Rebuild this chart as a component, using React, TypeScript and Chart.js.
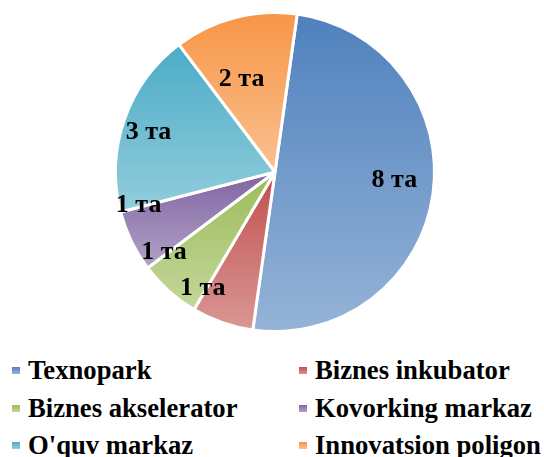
import React, { useEffect, useRef } from "react";
import { Chart, registerables } from "chart.js";

Chart.register(...registerables);

const categories = [
  "Texnopark",
  "Biznes inkubator",
  "Biznes akselerator",
  "Kovorking markaz",
  "O'quv markaz",
  "Innovatsion poligon",
];
const values = [8, 1, 1, 1, 3, 2];
const valueSuffix = " та";

const colorTop = ["#4F81BD", "#C0504D", "#9BBB59", "#8064A2", "#4BACC6", "#F79646"];
const colorBottom = ["#95B3D7", "#D99795", "#C4D79B", "#B3A2C7", "#93CDDD", "#FAC090"];

// label placement tweaks: angle offset (deg) from slice middle, radius fraction
const labelAngleOffset = [-4, 12.5, 12.3, 12, -2, -5.2];
const labelRadiusFrac = [0.75, 0.86, 0.86, 0.88, 0.83, 0.62];

const ROTATION = 8;
const BORDER = 3;
const FONT = "'Liberation Serif', 'Times New Roman', serif";

function sliceGradient(ctx: any) {
  const chart = ctx.chart;
  const area = chart.chartArea;
  const i = ctx.dataIndex;
  if (!area || i === undefined) return colorTop[i ?? 0];
  const cx = (area.left + area.right) / 2;
  const cy = (area.top + area.bottom) / 2;
  const r = Math.max((Math.min(area.width, area.height) - BORDER) / 2, 0);
  const total = values.reduce((a, b) => a + b, 0);
  let acc = 0;
  for (let k = 0; k < i; k++) acc += values[k];
  const base = -Math.PI / 2 + (ROTATION * Math.PI) / 180;
  const a0 = base + (acc / total) * Math.PI * 2;
  const a1 = base + ((acc + values[i]) / total) * Math.PI * 2;
  const ys = [cy, cy + r * Math.sin(a0), cy + r * Math.sin(a1)];
  const contains = (ang: number) => {
    for (let t = ang - 4 * Math.PI; t <= a1; t += 2 * Math.PI) {
      if (t >= a0 && t <= a1) return true;
    }
    return false;
  };
  if (contains(Math.PI / 2)) ys.push(cy + r);
  if (contains(-Math.PI / 2)) ys.push(cy - r);
  const yMin = Math.min(...ys);
  const yMax = Math.max(...ys);
  const g = chart.ctx.createLinearGradient(0, yMin, 0, yMax);
  g.addColorStop(0, colorTop[i]);
  g.addColorStop(1, colorBottom[i]);
  return g;
}

const labelPlugin = {
  id: "sliceLabels",
  afterDatasetsDraw(chart: any) {
    const meta = chart.getDatasetMeta(0);
    const c = chart.ctx;
    c.save();
    c.font = `bold 26px ${FONT}`;
    c.fillStyle = "#000";
    c.textAlign = "center";
    c.textBaseline = "middle";
    meta.data.forEach((arc: any, i: number) => {
      const p = arc.getProps(["x", "y", "startAngle", "endAngle", "outerRadius"], true);
      const mid = (p.startAngle + p.endAngle) / 2 + (labelAngleOffset[i] * Math.PI) / 180;
      const rr = p.outerRadius * labelRadiusFrac[i];
      c.fillText(values[i] + valueSuffix, p.x + rr * Math.cos(mid), p.y + rr * Math.sin(mid));
    });
    c.restore();
  },
};

export default function App() {
  const ref = useRef<HTMLCanvasElement>(null);
  useEffect(() => {
    if (!ref.current) return;
    const chart = new Chart(ref.current, {
      type: "pie",
      data: {
        labels: categories,
        datasets: [
          {
            data: values,
            backgroundColor: sliceGradient as any,
            borderColor: "#ffffff",
            borderWidth: BORDER,
          },
        ],
      },
      options: {
        responsive: false,
        animation: false,
        rotation: ROTATION,
        layout: { padding: { left: 6, right: 0, top: 11, bottom: 7 } },
        plugins: {
          legend: { display: false },
          tooltip: { enabled: false },
        },
      },
      plugins: [labelPlugin],
    });
    return () => chart.destroy();
  }, []);

  const legendCols = [12, 299];
  const legendRowTop = [352, 389.5, 427];

  return (
    <div
      style={{
        position: "fixed",
        left: 0,
        top: 0,
        width: 544,
        height: 457,
        background: "#fff",
        overflow: "hidden",
      }}
    >
      <canvas ref={ref} width={544} height={340} style={{ position: "absolute", left: 0, top: 0 }} />
      {categories.map((name, i) => {
        const col = i % 2;
        const row = Math.floor(i / 2);
        return (
          <div
            key={name}
            style={{
              position: "absolute",
              left: legendCols[col],
              top: legendRowTop[row],
              height: 37.5,
              lineHeight: "37.5px",
              whiteSpace: "nowrap",
              font: `bold 26.67px ${FONT}`,
              color: "#000",
              display: "flex",
              alignItems: "center",
            }}
          >
            <span
              style={{
                display: "inline-block",
                width: 8,
                height: 7,
                marginRight: 8,
                background: `linear-gradient(${colorTop[i]}, ${colorBottom[i]})`,
              }}
            />
            <span>{name}</span>
          </div>
        );
      })}
    </div>
  );
}
